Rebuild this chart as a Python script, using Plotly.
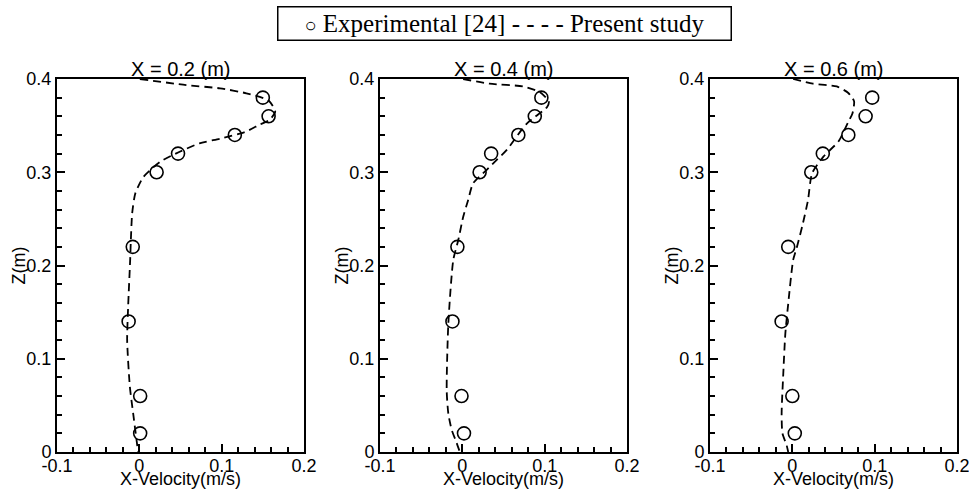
import plotly.graph_objects as go

# ---------------- data ----------------
panel_titles = ["X = 0.2 (m)", "X = 0.4 (m)", "X = 0.6 (m)"]
legend_names = ["Experimental [24]", "Present study"]
x_title = "X-Velocity(m/s)"
y_title = "Z(m)"

z_exp = [0.38, 0.36, 0.34, 0.32, 0.30, 0.22, 0.14, 0.06, 0.02]
u_exp_02 = [0.150, 0.157, 0.116, 0.047, 0.021, -0.008, -0.013, 0.001, 0.001]
u_exp_04 = [0.096, 0.088, 0.068, 0.035, 0.021, -0.006, -0.012, -0.001, 0.002]
u_exp_06 = [0.097, 0.089, 0.068, 0.037, 0.023, -0.005, -0.013, 0.000, 0.003]

z_sim_02 = [0.400, 0.3935, 0.390, 0.3847, 0.377, 0.365, 0.356, 0.351, 0.343, 0.336,
            0.331, 0.322, 0.311, 0.295, 0.277, 0.256, 0.227, 0.209, 0.156, 0.120,
            0.070, 0.0415, 0.013, 0.0]
u_sim_02 = [0.0006, 0.057, 0.098, 0.130, 0.157, 0.165, 0.158, 0.146, 0.128, 0.098,
            0.073, 0.049, 0.025, 0.005, -0.005, -0.0087, -0.0103, -0.011, -0.0136, -0.0148,
            -0.0115, -0.0075, -0.0034, -0.0015]

z_sim_04 = [0.400, 0.395, 0.392, 0.386, 0.376, 0.370, 0.352, 0.324, 0.313, 0.302,
            0.288, 0.270, 0.252, 0.227, 0.206, 0.138, 0.066, 0.041, 0.024, 0.010, 0.0]
u_sim_04 = [0.001, 0.033, 0.074, 0.094, 0.105, 0.103, 0.078, 0.054, 0.0415, 0.029,
            0.013, 0.007, 0.001, -0.005, -0.011, -0.017, -0.019, -0.017, -0.013, -0.007, -0.003]

z_sim_06 = [0.400, 0.395, 0.392, 0.385, 0.376, 0.363, 0.354, 0.333, 0.317, 0.299,
            0.270, 0.242, 0.218, 0.206, 0.159, 0.127, 0.084, 0.041, 0.020, 0.0075, 0.0]
u_sim_06 = [0.001, 0.025, 0.054, 0.068, 0.075, 0.073, 0.068, 0.056, 0.038, 0.024,
            0.019, 0.012, 0.005, 0.001, -0.005, -0.0085, -0.011, -0.013, -0.012, -0.007, -0.005]

x_tickvals = [-0.1, 0.0, 0.1, 0.2]
x_ticktext = ["-0.1", "0", "0.1", "0.2"]
y_tickvals = [0.0, 0.1, 0.2, 0.3, 0.4]
y_ticktext = ["0", "0.1", "0.2", "0.3", "0.4"]

exp_series = [u_exp_02, u_exp_04, u_exp_06]
sim_series = [(u_sim_02, z_sim_02), (u_sim_04, z_sim_04), (u_sim_06, z_sim_06)]

# ---------------- layout geometry ----------------
W, H = 969, 490
x_px = [(57, 304), (380, 627), (710, 957)]
y_top, y_bot = 79, 452

fig = go.Figure()
FONT = "Liberation Sans, Arial, sans-serif"
SERIF = "Liberation Serif, Times New Roman, serif"

for i in range(3):
    ax = "" if i == 0 else str(i + 1)
    u_sim, z_sim = sim_series[i]
    fig.add_trace(go.Scatter(
        x=u_sim, y=z_sim, mode="lines", name=legend_names[1],
        line=dict(color="black", width=1.8, dash="8px,5px", shape="spline", smoothing=0.6),
        showlegend=False, xaxis="x" + ax, yaxis="y" + ax))
    fig.add_trace(go.Scatter(
        x=exp_series[i], y=z_exp, mode="markers", name=legend_names[0],
        marker=dict(symbol="circle-open", size=13, color="black", line=dict(width=1.6, color="black")),
        showlegend=False, xaxis="x" + ax, yaxis="y" + ax))

    xd = [x_px[i][0] / W, x_px[i][1] / W]
    yd = [(H - y_bot) / H, (H - y_top) / H]
    common = dict(showgrid=False, zeroline=False, showline=True, linecolor="black",
                  linewidth=2, mirror=True, ticks="inside", ticklen=8, tickwidth=1.5,
                  tickcolor="black", automargin=False, ticklabeloverflow="allow",
                  tickfont=dict(family=FONT, size=18, color="black"))
    fig.update_layout(**{
        "xaxis" + ax: dict(domain=xd, range=[-0.1, 0.2], tickvals=x_tickvals, ticktext=x_ticktext,
                           ticklabelstandoff=-4,
                           minor=dict(dtick=0.02, tick0=0, ticks="inside", ticklen=5, tickwidth=1.5, tickcolor="black"),
                           anchor="y" + ax, **common),
        "yaxis" + ax: dict(domain=yd, range=[0, 0.4], tickvals=y_tickvals, ticktext=y_ticktext,
                           minor=dict(dtick=0.02, tick0=0, ticks="inside", ticklen=5, tickwidth=1.5, tickcolor="black"),
                           anchor="x" + ax, **common),
    })
    # subplot title
    fig.add_annotation(text=panel_titles[i], xref="paper", yref="paper",
                       x=(xd[0] + xd[1]) / 2, y=(H - 69) / H, xanchor="center", yanchor="middle",
                       showarrow=False, font=dict(family=FONT, size=20, color="black"))
    # axis titles
    fig.add_annotation(text=x_title, xref="paper", yref="paper",
                       x=(xd[0] + xd[1]) / 2, y=(H - 479) / H, xanchor="center", yanchor="middle",
                       showarrow=False, borderpad=0, font=dict(family=FONT, size=18, color="black"))
    fig.add_annotation(text=y_title, xref="paper", yref="paper", textangle=-90,
                       x=(x_px[i][0] - 39) / W, y=(yd[0] + yd[1]) / 2, xanchor="center", yanchor="middle",
                       showarrow=False, font=dict(family=FONT, size=18, color="black"))

# legend box (drawn as bordered text)
legend_text = ('<span style="font-size:20px">○</span> ' + legend_names[0]
               + ' - - - - ' + legend_names[1])
fig.add_annotation(text=legend_text, xref="paper", yref="paper",
                   x=505 / W, y=(H - 6) / H, xanchor="center", yanchor="top",
                   showarrow=False, width=450, height=30, align="center", valign="middle",
                   bordercolor="black", borderwidth=1.5, borderpad=1, bgcolor="white",
                   font=dict(family=SERIF, size=25, color="black"))

fig.update_layout(
    width=W, height=H, margin=dict(l=0, r=0, t=0, b=0),
    paper_bgcolor="white", plot_bgcolor="white", showlegend=False,
)

fig.write_html("out.html")
